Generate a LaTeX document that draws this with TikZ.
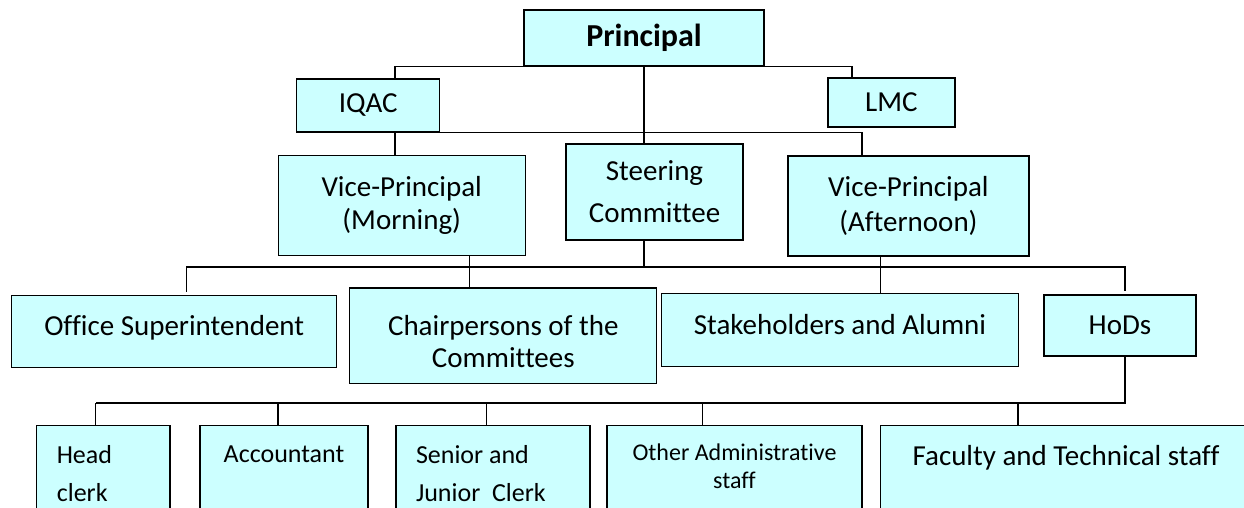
\documentclass[tikz,border=0pt]{standalone}
\usepackage{fontspec}
\setmainfont{Carlito}[Ligatures={NoCommon,NoContextual}, Contextuals=NoAlternate]

\definecolor{boxfill}{RGB}{204,255,255}

\begin{document}
\begin{tikzpicture}
        [x=1pt, y=-1pt,
         line width=1.2pt,
         unit/.style={draw, fill=boxfill, inner sep=0pt, align=center,
                      font=\fontsize{29}{33}\selectfont},
         staff/.style={draw, fill=boxfill, anchor=north, inner xsep=20pt, inner ysep=0pt,
                       text depth=120pt, font=\fontsize{26}{38}\selectfont}]

        \useasboundingbox (0,0) rectangle (1244,507);

        \node[unit, minimum width=240pt, minimum height=56pt,
              font=\fontsize{32}{36}\selectfont\bfseries] (principal) at (644,38) {Principal};
        \node[unit, minimum width=143pt, minimum height=53pt] (iqac) at (368.2,105.5) {IQAC};
        \node[unit, minimum width=127pt, minimum height=49pt] (lmc) at (891.4,102.5) {LMC};

        \node[unit, minimum width=247pt, minimum height=100pt] (vpmorning) at (401.7,205.8) {Vice-Principal\\(Morning)};
        \node[unit, minimum width=177pt, minimum height=96pt,
              font=\fontsize{29}{42}\selectfont] (steering) at (654.5,192) {Steering\\Committee};
        \node[unit, minimum width=241pt, minimum height=100pt,
              font=\fontsize{29}{35}\selectfont] (vpafternoon) at (908.4,206) {Vice-Principal\\(Afternoon)};

        \node[unit, minimum width=325pt, minimum height=72pt, text depth=11pt] (office) at (174.2,331.2) {Office Superintendent};
        \node[unit, anchor=north, text width=307pt, align=flush center, text height=47.7pt, text depth=48pt,
              font=\fontsize{29}{32}\selectfont] (chairpersons) at (503.3,287.3) {Chairpersons of the\\Committees};
        \node[unit, minimum width=357pt, minimum height=73pt, text depth=10pt] (stakeholders) at (840,329.7) {Stakeholders and Alumni};
        \node[unit, minimum width=152pt, minimum height=61pt] (hods) at (1120,325.5) {HoDs};

        % bottom row, cut off by the page edge
        \node[staff, text width=93.2pt, align=flush left, text height=38pt] (head) at (103.4,425) {Head\\clerk};
        \node[staff, text width=128pt, align=flush center, text height=37pt] (accountant) at (284,425) {Accountant};
        \node[staff, text width=154pt, align=flush left, text height=38pt] (clerks) at (493,425) {Senior and\\Junior~~Clerk};
        \node[staff, text width=215pt, align=flush center, text height=35pt,
              font=\fontsize{24}{28}\selectfont] (otherstaff) at (734.5,425) {Other Administrative\\staff};
        \node[staff, text width=331pt, align=flush center, text height=40pt,
              font=\fontsize{29}{35}\selectfont] (faculty) at (1066,425) {Faculty and Technical staff};

        \coordinate (midleft) at (186.6,267);
        \coordinate (midright) at (1125,267);
        \coordinate (lowleft) at (95.7,403);
        \coordinate (lowright) at (1125,403);

        \draw (principal.south west) -| ([xshift=26.8pt]iqac.north);
        \draw (principal.south east) -| ([xshift=-39.4pt]lmc.north);
        \draw (principal.south) -- (principal.south |- steering.north);
        \draw ([xshift=26.8pt]iqac.south) -- ([xshift=26.8pt]iqac.south |- vpmorning.north);
        \draw (iqac.south east) -| ([xshift=-46.4pt]vpafternoon.north);

        \draw[shorten <=3pt, shorten >=3pt]
                (midleft |- office.north) -- (midleft) -- (midright) -- (midright |- hods.north);
        \draw ([xshift=68pt]vpmorning.south) -- ([xshift=68pt]vpmorning.south |- chairpersons.north);
        \draw (principal.south |- steering.south) -- (principal.south |- midleft);
        \draw ([xshift=-27.8pt]vpafternoon.south) -- ([xshift=-27.8pt]vpafternoon.south |- stakeholders.north);

        \draw (hods.south -| lowright) -- (lowright) -- (lowleft);
        \foreach \n/\dx in {head/-7.7, accountant/-6, clerks/-6.6, otherstaff/-32.1, faculty/-48.1}
                \draw ([xshift=\dx pt]\n.north) -- ([xshift=\dx pt]\n.north |- lowleft);
\end{tikzpicture}
\end{document}
